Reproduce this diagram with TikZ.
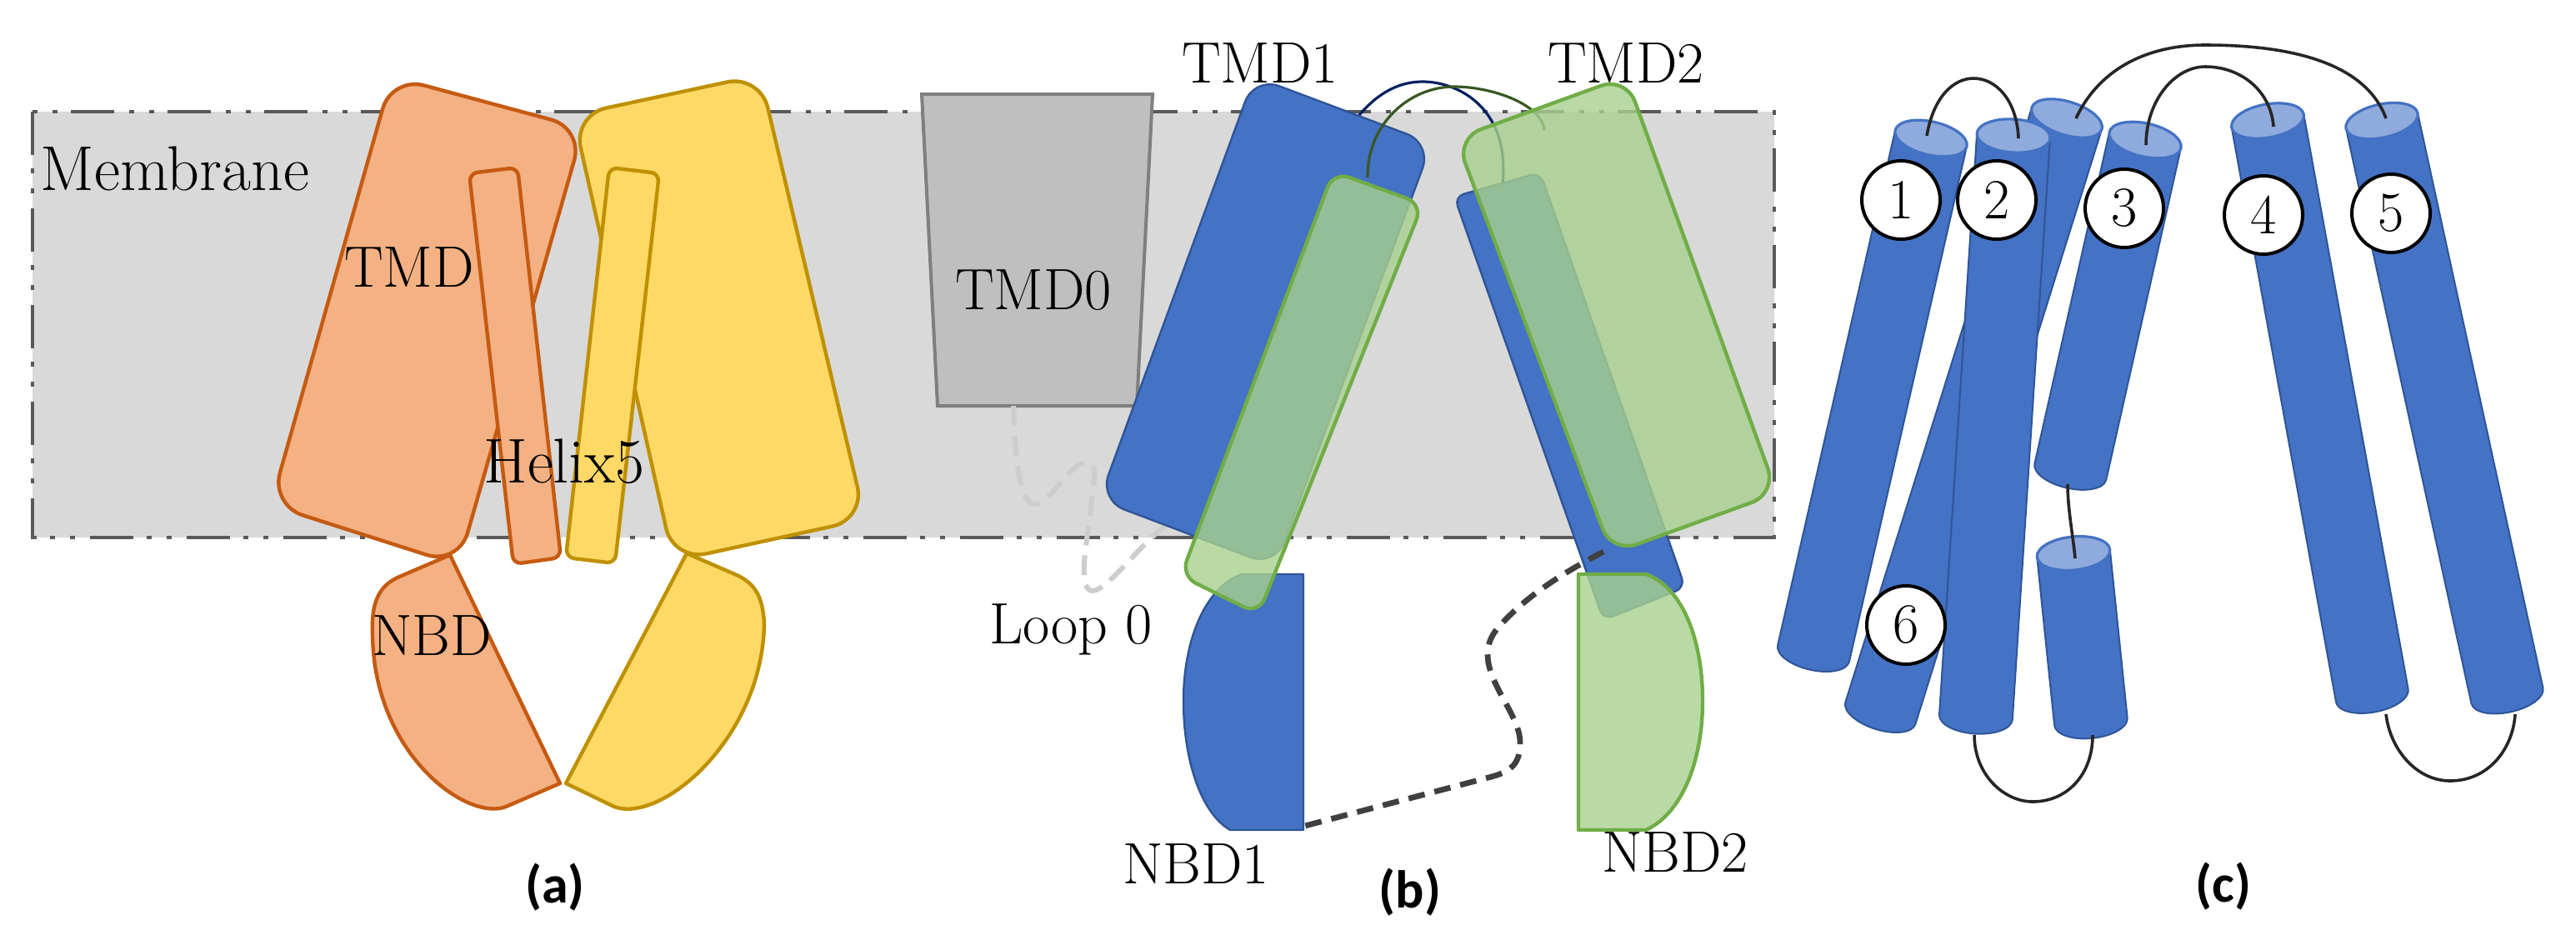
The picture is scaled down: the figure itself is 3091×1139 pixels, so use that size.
\documentclass[tikz,border=0pt]{standalone}
\usepackage{fontspec}
\usepackage{tikz}
\usetikzlibrary{arrows,positioning}
\newfontfamily\capfont{Carlito}
\definecolor{tmdorange}{RGB}{244,177,131}
\definecolor{tmdorangeline}{RGB}{197,90,17}
\definecolor{tmdyellow}{RGB}{255,217,102}
\definecolor{tmdyellowline}{RGB}{191,144,0}
\definecolor{tmdblue}{RGB}{68,114,196}
\definecolor{tmdblueline}{RGB}{47,85,151}
\definecolor{tmdgreen}{RGB}{169,209,142}
\definecolor{tmdgreenline}{RGB}{112,173,71}
\tikzset{
  labeltext/.style={inner sep=0.75pt,font=\fontsize{17.5}{20}\selectfont},
  widetext/.style={inner sep=0.75pt,font=\fontsize{19}{21}\selectfont},
  captext/.style={inner sep=0.75pt,font=\capfont\bfseries\fontsize{16}{18}\selectfont},
  orangeshape/.style={fill=tmdorange,draw=tmdorangeline,line width=1.1pt,line join=round},
  yellowshape/.style={fill=tmdyellow,draw=tmdyellowline,line width=1.1pt,line join=round},
  blueshape/.style={fill=tmdblue,draw=tmdblueline,line width=0.6pt,line join=round},
  greenshape/.style={fill=tmdgreen,fill opacity=0.8,draw=tmdgreenline,line width=1.1pt,line join=round},
  helixbody/.style={fill=tmdblue,draw=tmdblueline,line width=0.5pt},
  helixtop/.style={fill=tmdblue!60!white,draw=tmdblue,line width=0.8pt},
  helixloop/.style={draw=black!85,line width=0.9pt},
  numcircle/.style={circle,draw=black,fill=white,line width=1pt,inner sep=0pt,minimum size=23.5pt,font=\fontsize{17}{18}\selectfont}
}
% x y of the top centre, tilt, length
\newcommand{\helix}[4]{
  \begin{scope}[shift={(#1,#2)},rotate=#3]
    \draw [helixbody] (-44,0) -- (-44,#4) arc (180:0:44 and 20) -- (44,0) -- cycle;
    \draw [helixtop] (0,0) ellipse (44 and 20);
  \end{scope}
}

\begin{document}
\begin{tikzpicture}[x=0.25pt,y=0.25pt,yscale=-1,xscale=1]
\useasboundingbox (0,0) rectangle (3091,1139);

%Shape: Membrane
\draw [fill={rgb,255:red,217;green,217;blue,217},draw={rgb,255:red,89;green,89;blue,89},line width=1pt,dash pattern=on 13pt off 4pt on 1.5pt off 4.5pt on 1.5pt off 4.5pt] (39,134) rectangle (2129,645);

%Shape: TMD orange
\draw [orangeshape,rounded corners=10pt] (470,92) -- (700,154) -- (550,678) -- (325,606) -- cycle;
%Shape: Helix orange
\draw [orangeshape,rounded corners=2.5pt] (563,208) -- (621,201) -- (673,669) -- (616,677) -- cycle;
%Shape: TMD yellow
\draw [yellowshape,rounded corners=10pt] (688,138) -- (912,90) -- (1038,623) -- (808,673) -- cycle;
%Shape: Helix yellow
\draw [yellowshape,rounded corners=2.5pt] (731,201) -- (791,208) -- (738,676) -- (679,669) -- cycle;
%Shape: NBD orange
\draw [orangeshape] (540,666) -- (672,940) -- (607,968) .. controls (561,986) and (449,906) .. (447,762) .. controls (445,721) and (456,703) .. (477,693) -- cycle;
%Shape: NBD yellow
\draw [yellowshape] (824,664) -- (679,940) -- (737,968) .. controls (793,989) and (915,886) .. (917,748) .. controls (915,714) and (905,700) .. (884,690) -- cycle;

%Shape: TMD0
\draw [fill={rgb,255:red,191;green,191;blue,191},draw={rgb,255:red,127;green,127;blue,127},line width=1pt] (1106,113) -- (1383,113) -- (1364,487) -- (1125,487) -- cycle;
%Curve Lines: Loop 0
\draw [draw={rgb,255:red,205;green,205;blue,205},line width=1.5pt,dash pattern=on 6pt off 3pt] (1216,487) .. controls (1218,530) and (1220,605) .. (1242,605) .. controls (1260,605) and (1280,560) .. (1302,555) .. controls (1318,555) and (1313,575) .. (1311,590) .. controls (1307,640) and (1290,708) .. (1311,709) .. controls (1330,708) and (1370,650) .. (1400,630);

%Shape: TMD1 blue
\draw [blueshape,rounded corners=8pt] (1505,92) -- (1718,172) -- (1530,680) -- (1319,600) -- cycle;
%Shape: right blue
\draw [blueshape,rounded corners=3pt] (1745,236) -- (1848,207) -- (2022,705) -- (1924,744) -- cycle;
%Shape: NBD1
\draw [blueshape] (1564,689) -- (1564,996) -- (1476,996) .. controls (1440,975) and (1420,910) .. (1420,841) .. controls (1420,770) and (1445,705) .. (1490,689) -- cycle;
%Curve Lines: two arcs
\draw [draw={rgb,255:red,0;green,32;blue,96},line width=0.8pt] (1631,138) .. controls (1655,110) and (1680,98) .. (1707,98) .. controls (1750,98) and (1812,130) .. (1803,220);
\draw [draw={rgb,255:red,56;green,87;blue,35},line width=0.8pt] (1641,213) .. controls (1640,150) and (1690,104) .. (1745,104) .. controls (1790,104) and (1850,125) .. (1853,156);
%Shape: TMD1 green
\draw [greenshape,rounded corners=5pt] (1600,206) -- (1707,245) -- (1510,737) -- (1417,691) -- cycle;
%Shape: TMD2 green
\draw [greenshape,rounded corners=8pt] (1747,166) -- (1951,92) -- (2132,592) -- (1934,664) -- cycle;
%Shape: NBD2
\draw [greenshape] (1894,689) -- (1894,996) -- (1975,996) .. controls (2020,975) and (2043,910) .. (2043,841) .. controls (2043,770) and (2020,705) .. (1975,689) -- cycle;
%Curve Lines: dashed link
\draw [draw={rgb,255:red,64;green,64;blue,64},line width=1.7pt,dash pattern=on 5pt off 3pt] (1924,662) .. controls (1880,685) and (1830,715) .. (1796,755) .. controls (1760,800) and (1824,850) .. (1824,891) .. controls (1824,915) and (1815,925) .. (1790,932) -- (1562,992);

% helices of panel c
\helix{2480}{142}{17.4}{748}
\helix{2317}{166}{12.85}{634}
\helix{2416}{163}{3.7}{699}
\helix{2574}{168}{12.7}{408}
\helix{2488}{664}{-5.9}{203}
\helix{2721}{145}{-10.3}{701}
\helix{2858}{145}{-12.3}{706}

%Curve Lines: loops of panel c
\draw [helixloop] (2312,163) .. controls (2320,115) and (2345,94) .. (2368,94) .. controls (2395,94) and (2420,120) .. (2422,166);
\draw [helixloop] (2491,142) .. controls (2520,80) and (2580,54) .. (2646,54) .. controls (2760,54) and (2840,80) .. (2863,142);
\draw [helixloop] (2575,174) .. controls (2575,120) and (2610,80) .. (2646,80) .. controls (2690,80) and (2725,110) .. (2728,152);
\draw [helixloop] (2481,581) .. controls (2481,610) and (2487,640) .. (2490,670);
\draw [helixloop] (2369,882) .. controls (2369,930) and (2405,962) .. (2439,962) .. controls (2480,962) and (2511,930) .. (2511,882);
\draw [helixloop] (2863,857) .. controls (2868,900) and (2900,937) .. (2940,937) .. controls (2985,937) and (3015,900) .. (3018,857);

% Text Node
\node [widetext] (membrane) at (210,202) {Membrane};
\node [labeltext] (tmd) at (491,321) {TMD};
\node [widetext] (helixfive) at (677,554) {Helix5};
\node [labeltext] (nbd) at (518,763) {NBD};
\node [captext] (capa) at (666,1065) {(a)};
\node [labeltext] (tmdone) at (1512,76) {TMD1};
\node [labeltext] (tmdtwo) at (1951,76) {TMD2};
\node [labeltext] (tmdzero) at (1240,348) {TMD0};
\node [labeltext] (loopzero) at (1285,755) {Loop 0};
\node [labeltext] (nbdone) at (1435,1037) {NBD1};
\node [labeltext] (nbdtwo) at (2010,1023) {NBD2};
\node [captext] (capb) at (1692,1071) {(b)};
\node [captext] (capc) at (2668,1064) {(c)};
\node [numcircle] (numone) at (2281,240) {1};
\node [numcircle] (numtwo) at (2396,240) {2};
\node [numcircle] (numthree) at (2549,250) {3};
\node [numcircle] (numfour) at (2716,258) {4};
\node [numcircle] (numfive) at (2869,256) {5};
\node [numcircle] (numsix) at (2287,750) {6};

\end{tikzpicture}
\end{document}
